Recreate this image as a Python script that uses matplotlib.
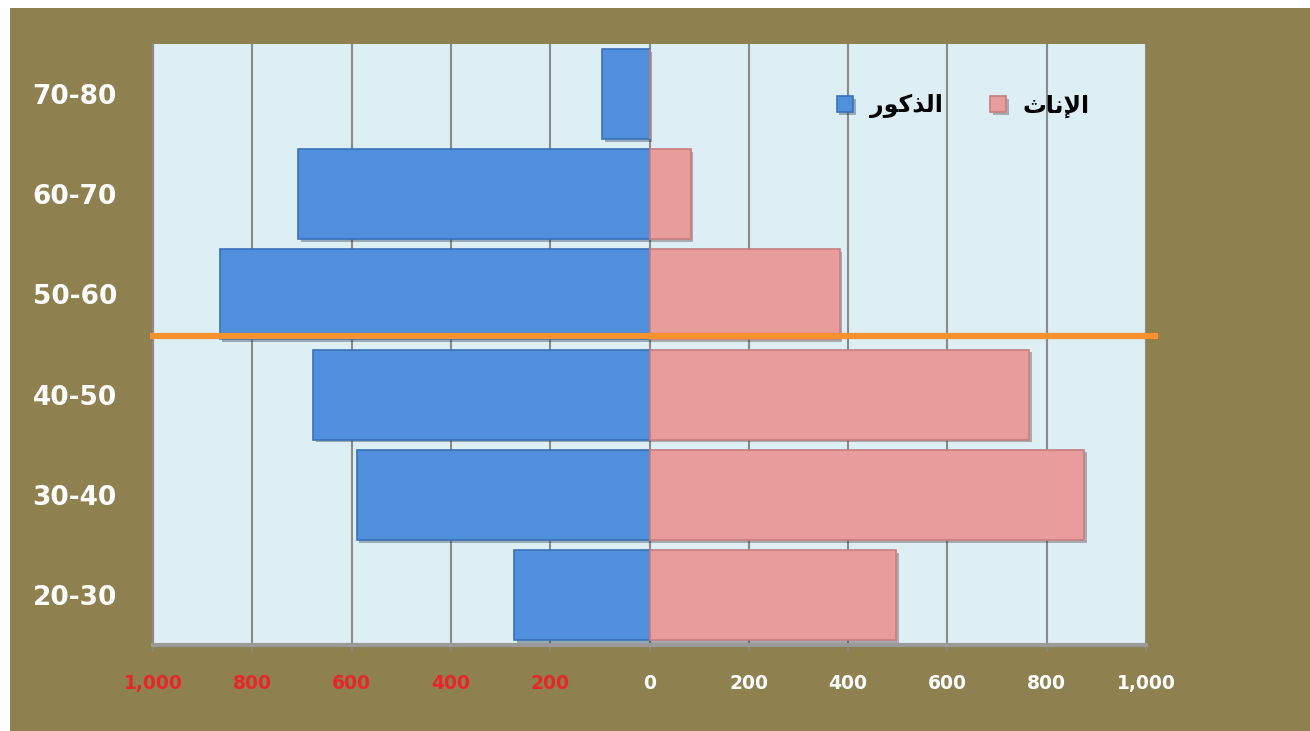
import matplotlib
matplotlib.use("Agg")
import matplotlib.pyplot as plt
import matplotlib.patheffects as pe
from matplotlib.patches import Rectangle

# Data
age_groups = ["20-30", "30-40", "40-50", "50-60", "60-70", "70-80"]
males = [272, 590, 677, 866, 707, 95]
females = [497, 876, 765, 383, 83, 0]
x_ticks = [-1000, -800, -600, -400, -200, 0, 200, 400, 600, 800, 1000]
x_tick_labels = ["1,000", "800", "600", "400", "200", "0", "200", "400", "600", "800", "1,000"]
marker_line_y = 2.58

# Arabic labels in presentation forms (visual order), since matplotlib does no shaping
label_males = "\uFEAD\uFEEE\uFEDB\uFEAC\uFEDF\uFE8D"    # الذكور
label_females = "\uFE99\uFE8E\uFEE7\uFEF9\uFE8D"        # الإناث

olive = "#8E804F"
plot_bg = "#DDEEF4"
blue = "#4F8FDC"
pink = "#E89C9C"

fig = plt.figure(figsize=(13.1, 7.31), dpi=100, facecolor="white")
fig.patches.append(Rectangle((10 / 1310, 0), 1300 / 1310, 723 / 731,
                             transform=fig.transFigure, facecolor=olive,
                             edgecolor="none", zorder=-10))

ax = fig.add_axes([153 / 1310, 1 - 645 / 731, 993 / 1310, 601 / 731])
ax.set_facecolor(plot_bg)

shadow = [pe.SimplePatchShadow(offset=(2, -2), alpha=0.35), pe.Normal()]
y = list(range(len(age_groups)))
ax.barh(y, [-m for m in males], height=0.9, color=blue, edgecolor="#3A72B8",
        linewidth=1.2, label=label_males, zorder=3, path_effects=shadow)
ax.barh(y, females, height=0.9, color=pink, edgecolor="#C77F80",
        linewidth=1.2, label=label_females, zorder=3, path_effects=shadow)

# orange separator line
ax.plot([-0.003, 1.012], [marker_line_y, marker_line_y], color="#F7922E",
        linewidth=4.5, solid_capstyle="butt", transform=ax.get_yaxis_transform(),
        clip_on=False, zorder=5)

ax.set_xlim(-1000, 1000)
ax.set_ylim(-0.5, 5.5)
ax.set_xticks(x_ticks)
ax.set_xticklabels(x_tick_labels, fontsize=13.5, fontweight="bold")
for lbl, v in zip(ax.get_xticklabels(), x_ticks):
    lbl.set_color("#E8262A" if v < 0 else "white")
ax.set_yticks(y)
ax.set_yticklabels(age_groups, fontsize=19, fontweight="bold", color="white")
ax.tick_params(axis="y", length=0, pad=26)
ax.tick_params(axis="x", length=5, width=1.2, color="#8A8A8A", pad=16)

ax.grid(axis="x", color="#8A8A8A", linewidth=1.5, zorder=1)
ax.set_axisbelow(True)
for side in ["top", "right"]:
    ax.spines[side].set_visible(False)
ax.spines["left"].set_color("#8A8A8A")
ax.spines["bottom"].set_color("#9A9A9A")
ax.spines["left"].set_linewidth(1.5)
ax.spines["bottom"].set_linewidth(3)

ax.legend(loc="upper right", bbox_to_anchor=(0.965, 0.953), ncol=2, frameon=False,
          prop={"family": "DejaVu Sans", "weight": "bold", "size": 17},
          handlelength=0.7, handleheight=0.7, columnspacing=2.0, handletextpad=0.7)

plt.savefig("out.png", dpi=100, facecolor=fig.get_facecolor())
